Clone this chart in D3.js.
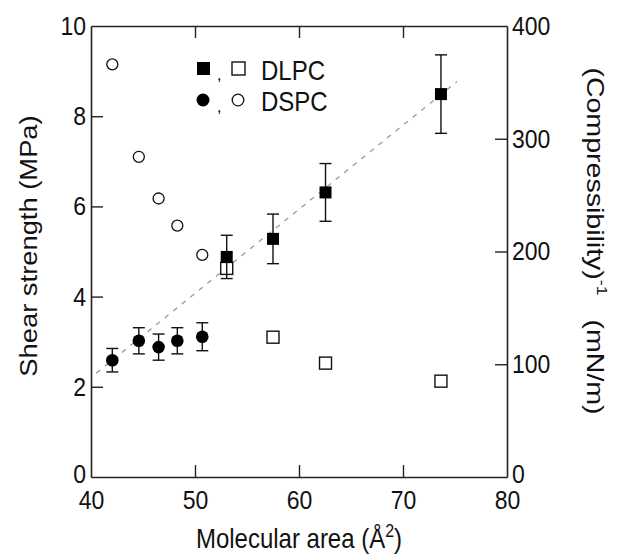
<!DOCTYPE html>
<html>
<head>
<meta charset="utf-8">
<script src="https://cdn.jsdelivr.net/npm/d3@7"></script>
<style>
  html, body { margin: 0; padding: 0; background: #fff; }
  svg { display: block; }
</style>
</head>
<body>
<div id="chart"></div>
<script>
// values
const dlpcArea = [53.05, 57.5, 62.55, 73.65];
const dlpcShear = [4.88, 5.28, 6.31, 8.49];
const dlpcShearErr = [0.48, 0.55, 0.64, 0.87];
const dlpcCompress = [185, 124, 101, 85];

const dspcArea = [42.05, 44.6, 46.5, 48.3, 50.7];
const dspcShear = [2.59, 3.02, 2.88, 3.02, 3.11];
const dspcShearErr = [0.26, 0.29, 0.29, 0.29, 0.31];
const dspcCompress = [366, 284, 247, 223, 197];

const trendArea = [40.5, 75.2];
const trendShear = [2.30, 8.77];

const xTicks = [40, 50, 60, 70, 80];
const yLeftTicks = [0, 2, 4, 6, 8, 10];
const yRightTicks = [0, 100, 200, 300, 400];

const W = 618, H = 557;
const m = { top: 26, right: 111, bottom: 80, left: 91 };
const FONT = 'Liberation Sans, Arial, sans-serif';
const STRETCH = 1.14; // source figure is a bit taller than wide

const svg = d3.select('#chart').append('svg')
  .attr('width', W).attr('height', H);

const x = d3.scaleLinear().domain([40, 80]).range([m.left, W - m.right]);
const yL = d3.scaleLinear().domain([0, 10]).range([H - m.bottom, m.top]);
const yR = d3.scaleLinear().domain([0, 400]).range([H - m.bottom, m.top]);

const TL = 12; // inward tick length
const axisColor = '#222';

// axes (ticks pointing inside)
const gx = svg.append('g').attr('transform', `translate(0,${H - m.bottom})`)
  .call(d3.axisBottom(x).tickValues(xTicks).tickSize(-TL).tickPadding(TL + 6).tickSizeOuter(0));
const gxTop = svg.append('g').attr('transform', `translate(0,${m.top})`)
  .call(d3.axisTop(x).tickValues(xTicks).tickSize(-TL).tickFormat('').tickSizeOuter(0));
const gyL = svg.append('g').attr('transform', `translate(${m.left},0)`)
  .call(d3.axisLeft(yL).tickValues(yLeftTicks).tickSize(-TL).tickPadding(5).tickSizeOuter(0));
const gyR = svg.append('g').attr('transform', `translate(${W - m.right},0)`)
  .call(d3.axisRight(yR).tickValues(yRightTicks).tickSize(-TL).tickPadding(5).tickSizeOuter(0));

[gx, gxTop, gyL, gyR].forEach(g => {
  g.select('.domain').attr('stroke', axisColor).attr('stroke-width', 1.6);
  g.selectAll('.tick line').attr('stroke', axisColor).attr('stroke-width', 1.4);
  g.selectAll('.tick text').attr('font-family', FONT).attr('font-size', 23).attr('fill', '#111')
    .attr('transform', `scale(1,${STRETCH})`);
});
// end ticks sit on the frame, hide them
gx.selectAll('.tick line').filter(d => d === 40 || d === 80).remove();
gxTop.selectAll('.tick line').filter(d => d === 40 || d === 80).remove();
gyL.selectAll('.tick line').filter(d => d === 0 || d === 10).remove();
gyR.selectAll('.tick line').filter(d => d === 0 || d === 400).remove();
gx.selectAll('.tick text').attr('dy', '0.45em');
// the zero labels sit just above the x tick labels
gyL.selectAll('.tick text').filter(d => d === 0).attr('dy', '0.22em');
gyR.selectAll('.tick text').filter(d => d === 0).attr('dy', '0.22em');

// trend line
svg.append('line')
  .attr('x1', x(trendArea[0])).attr('y1', yL(trendShear[0]))
  .attr('x2', x(trendArea[1])).attr('y2', yL(trendShear[1]))
  .attr('stroke', '#9a9a9a').attr('stroke-width', 1.3).attr('stroke-dasharray', '5,6');

// open markers: compressibility (right axis)
const sq = 12;
svg.append('g').selectAll('rect').data(dlpcArea).join('rect')
  .attr('x', (d) => x(d) - sq / 2)
  .attr('y', (d, i) => yR(dlpcCompress[i]) - sq / 2)
  .attr('width', sq).attr('height', sq)
  .attr('fill', '#fff').attr('stroke', '#111').attr('stroke-width', 1.4);

svg.append('g').selectAll('circle').data(dspcArea).join('circle')
  .attr('cx', d => x(d)).attr('cy', (d, i) => yR(dspcCompress[i]))
  .attr('r', 5.5)
  .attr('fill', '#fff').attr('stroke', '#111').attr('stroke-width', 1.3);

// error bars
function errBars(xs, ys, es) {
  const g = svg.append('g').attr('stroke', '#111').attr('stroke-width', 1.4);
  xs.forEach((a, i) => {
    const cx = x(a), top = yL(ys[i] + es[i]), bot = yL(ys[i] - es[i]);
    g.append('line').attr('x1', cx).attr('x2', cx).attr('y1', top).attr('y2', bot);
    g.append('line').attr('x1', cx - 6).attr('x2', cx + 6).attr('y1', top).attr('y2', top);
    g.append('line').attr('x1', cx - 6).attr('x2', cx + 6).attr('y1', bot).attr('y2', bot);
  });
}
errBars(dlpcArea, dlpcShear, dlpcShearErr);
errBars(dspcArea, dspcShear, dspcShearErr);

// filled markers: shear strength (left axis)
svg.append('g').selectAll('rect').data(dlpcArea).join('rect')
  .attr('x', d => x(d) - sq / 2)
  .attr('y', (d, i) => yL(dlpcShear[i]) - sq / 2)
  .attr('width', sq).attr('height', sq).attr('fill', '#000');

svg.append('g').selectAll('circle').data(dspcArea).join('circle')
  .attr('cx', d => x(d)).attr('cy', (d, i) => yL(dspcShear[i]))
  .attr('r', 6.3).attr('fill', '#000');

// legend
const leg = svg.append('g').attr('font-family', FONT);
leg.append('rect').attr('x', 197).attr('y', 62).attr('width', 13).attr('height', 13).attr('fill', '#000');
leg.append('text').attr('x', 217).attr('y', 80).attr('font-size', 16).text(',');
leg.append('rect').attr('x', 232).attr('y', 62).attr('width', 13).attr('height', 13)
  .attr('fill', '#fff').attr('stroke', '#111').attr('stroke-width', 1.4);
leg.append('text').attr('transform', `translate(261,80) scale(1,${STRETCH})`)
  .attr('font-size', 24).attr('fill', '#111').text('DLPC');

leg.append('circle').attr('cx', 203).attr('cy', 100).attr('r', 6.5).attr('fill', '#000');
leg.append('text').attr('x', 217).attr('y', 112).attr('font-size', 16).text(',');
leg.append('circle').attr('cx', 238).attr('cy', 100).attr('r', 5.8)
  .attr('fill', '#fff').attr('stroke', '#111').attr('stroke-width', 1.3);
leg.append('text').attr('transform', `translate(261,111) scale(1,${STRETCH})`)
  .attr('font-size', 24).attr('fill', '#111').text('DSPC');

// axis titles
const xt = svg.append('text')
  .attr('transform', `translate(${x(60)},548) scale(1,${STRETCH})`)
  .attr('text-anchor', 'middle')
  .attr('font-family', FONT).attr('font-size', 24).attr('fill', '#111');
xt.append('tspan').text('Molecular area (Å');
xt.append('tspan').attr('font-size', 16).attr('dy', -10).text('2');
xt.append('tspan').attr('dy', 10).text(')');

svg.append('text')
  .attr('transform', `translate(37,246) rotate(-90) scale(${STRETCH},1)`)
  .attr('text-anchor', 'middle')
  .attr('font-family', FONT).attr('font-size', 24).attr('fill', '#111')
  .text('Shear strength (MPa)');

const rt = svg.append('text')
  .attr('transform', `translate(587,241) rotate(90) scale(1.19,1)`)
  .attr('text-anchor', 'middle')
  .attr('font-family', FONT).attr('font-size', 24).attr('fill', '#111');
rt.append('tspan').text('(Compressibility)');
rt.append('tspan').attr('font-size', 15).attr('dy', -10).text('-1');
rt.append('tspan').attr('dy', 10).text('\u00a0\u00a0\u00a0(mN/m)');
</script>
</body>
</html>
